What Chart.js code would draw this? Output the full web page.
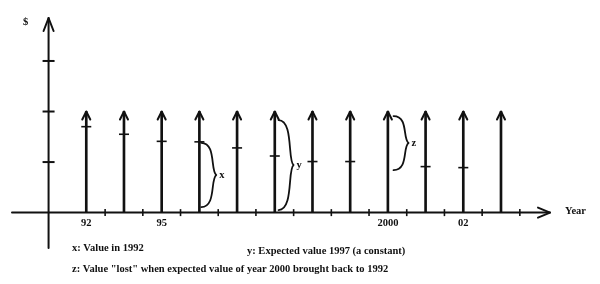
<!DOCTYPE html>
<html>
<head>
<meta charset="utf-8">
<script src="https://cdn.jsdelivr.net/npm/chart.js@4.4.0/dist/chart.umd.min.js"></script>
<style>
  html, body { margin: 0; padding: 0; background: #fff; }
  #wrap { width: 600px; height: 284px; position: relative; }
</style>
</head>
<body>
<div id="wrap"><canvas id="cashChart"></canvas></div>
<script>
// Data: one cash flow arrow per year, 1992 = 0
const yearIndex = [0, 1, 2, 3, 4, 5, 6, 7, 8, 9, 10, 11];
const cashFlow = [2, 2, 2, 2, 2, 2, 2, 2, 2, 2, 2, 2];
const presentValue = [1.70, 1.55, 1.41, 1.40, 1.28, 1.12, 1.01, 1.01, null, 0.91, 0.89, null];
const tickPositions = [0, 2, 8, 10];
const tickLabels = ['92', '95', '2000', '02'];
const axisTicks = [1, 2, 3];
const halfYearTicks = [0.5, 1.5, 2.5, 3.5, 4.5, 5.5, 6.5, 7.5, 8.5, 9.5, 10.5, 11.5];
// braces: [x, top, bottom, label]
const braces = [
    [3.05, 1.38, 0.11, 'x'],
    [5.1, 1.83, 0.05, 'y'],
    [8.15, 1.91, 0.84, 'z']
];
const footnotes = [
    'x: Value in 1992',
    'y: Expected value 1997 (a constant)',
    'z: Value "lost" when expected value of year 2000 brought back to 1992'
];

const INK = '#111';
const SERIF = '"Liberation Serif", "DejaVu Serif", serif';

// Axes, arrowheads, braces and text
const diagramPlugin = {
    id: 'diagram',
    afterDatasetsDraw(chart) {
        const ctx = chart.ctx;
        const xs = chart.scales.x;
        const ys = chart.scales.y;
        const y0 = ys.getPixelForValue(0);
        const xAxis = xs.getPixelForValue(-1);

        ctx.save();
        ctx.strokeStyle = INK;
        ctx.fillStyle = INK;
        ctx.lineCap = 'round';
        ctx.lineJoin = 'round';

        // y axis
        ctx.lineWidth = 2;
        ctx.beginPath();
        ctx.moveTo(xAxis, ys.getPixelForValue(ys.min));
        ctx.lineTo(xAxis, ys.getPixelForValue(ys.max));
        ctx.stroke();
        const yTop = ys.getPixelForValue(ys.max);
        ctx.beginPath();
        ctx.moveTo(xAxis - 5, yTop + 13);
        ctx.lineTo(xAxis, yTop);
        ctx.lineTo(xAxis + 5, yTop + 13);
        ctx.stroke();

        // x axis
        const xRight = xs.getPixelForValue(xs.max);
        ctx.beginPath();
        ctx.moveTo(xs.getPixelForValue(xs.min), y0);
        ctx.lineTo(xRight, y0);
        ctx.stroke();
        ctx.beginPath();
        ctx.moveTo(xRight - 12, y0 - 5);
        ctx.lineTo(xRight, y0);
        ctx.lineTo(xRight - 12, y0 + 5);
        ctx.stroke();

        // arrowheads on cash flows
        yearIndex.forEach((v, i) => {
            const px = xs.getPixelForValue(v);
            const py = ys.getPixelForValue(cashFlow[i]);
            ctx.beginPath();
            ctx.moveTo(px - 4, py + 8);
            ctx.lineTo(px, py);
            ctx.lineTo(px + 4, py + 8);
            ctx.stroke();
        });

        // braces
        ctx.lineWidth = 1.8;
        ctx.font = 'bold 10.5px ' + SERIF;
        ctx.textBaseline = 'middle';
        braces.forEach(b => {
            const bx = xs.getPixelForValue(b[0]);
            const top = ys.getPixelForValue(b[1]);
            const bot = ys.getPixelForValue(b[2]);
            const mid = (top + bot) / 2;
            const w = 13;
            ctx.beginPath();
            ctx.moveTo(bx, top);
            ctx.bezierCurveTo(bx + w + 2, top, bx + w - 4, mid - 4, bx + w + 2, mid);
            ctx.bezierCurveTo(bx + w - 4, mid + 4, bx + w + 2, bot, bx, bot);
            ctx.stroke();
            ctx.textAlign = 'left';
            ctx.fillText(b[3], bx + w + 5, mid);
        });

        // tick labels
        ctx.textAlign = 'center';
        ctx.textBaseline = 'top';
        tickPositions.forEach((v, i) => {
            ctx.fillText(tickLabels[i], xs.getPixelForValue(v), y0 + 5);
        });

        // axis titles
        ctx.textAlign = 'left';
        ctx.textBaseline = 'middle';
        ctx.fillText('$', 23, 22);
        ctx.fillText('Year', 565, y0 - 1);

        // footnotes
        ctx.fillText(footnotes[0], 72, 248);
        ctx.fillText(footnotes[1], 247, 251);
        ctx.fillText(footnotes[2], 72, 269);
        ctx.restore();
    }
};

const tickMark = {
    type: 'line',
    showLine: false,
    pointStyle: 'line',
    borderColor: INK,
    backgroundColor: INK,
    borderWidth: 1.6,
    clip: false
};

const cashCtx = document.getElementById('cashChart').getContext('2d');
const cashChart = new Chart(cashCtx, {
    type: 'bar',
    data: {
        datasets: [
            {
                type: 'bar',
                data: yearIndex.map((v, i) => ({ x: v, y: cashFlow[i] })),
                backgroundColor: INK,
                barThickness: 2,
                borderWidth: 0
            },
            Object.assign({}, tickMark, {
                data: yearIndex.map((v, i) => ({ x: v, y: presentValue[i] })),
                pointRadius: 5
            }),
            Object.assign({}, tickMark, {
                data: axisTicks.map(v => ({ x: -1, y: v })),
                pointRadius: 6,
                borderWidth: 2
            }),
            Object.assign({}, tickMark, {
                data: halfYearTicks.map(v => ({ x: v, y: 0 })),
                pointRadius: 3.5,
                pointRotation: 90
            })
        ]
    },
    options: {
        responsive: true,
        maintainAspectRatio: false,
        animation: false,
        events: [],
        layout: { padding: { left: 12, right: 50, top: 18, bottom: 36 } },
        scales: {
            x: { type: 'linear', display: false, offset: false, min: -1.97, max: 12.3 },
            y: { type: 'linear', display: false, min: -0.7, max: 3.85 }
        },
        plugins: {
            legend: { display: false },
            tooltip: { enabled: false }
        }
    },
    plugins: [diagramPlugin]
});
</script>
</body>
</html>
